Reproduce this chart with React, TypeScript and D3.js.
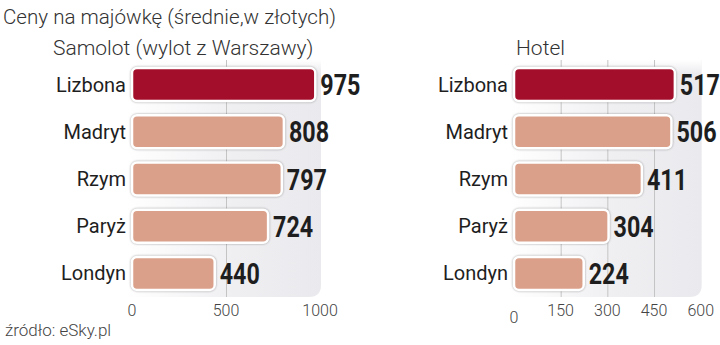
import React from "react";
import * as d3 from "d3";

const title = "Ceny na majówkę (średnie,w złotych)";
const source = "źródło: eSky.pl";
const cities = ["Lizbona", "Madryt", "Rzym", "Paryż", "Londyn"];
const flightTitle = "Samolot (wylot z Warszawy)";
const flightValues = [975, 808, 797, 724, 440];
const flightTicks = [0, 500, 1000];
const hotelTitle = "Hotel";
const hotelValues = [517, 506, 411, 304, 224];
const hotelTicks = [0, 150, 300, 450, 600];

const W = 720;
const H = 345;
const HIGHLIGHT = "#a30f2b";
const BASE = "#daa08a";
const LABEL_FONT = "Roboto, 'Noto Sans', sans-serif";
const VALUE_FONT = "Roboto, 'Noto Sans', sans-serif";

type PanelProps = {
  id: string;
  x0: number;
  x1: number;
  max: number;
  ticks: number[];
  values: number[];
  heading: string;
  headingX: number;
  zeroDrop: number;
};

function Panel({ id, x0, x1, max, ticks, values, heading, headingX, zeroDrop }: PanelProps) {
  const x = d3.scaleLinear().domain([0, max]).range([x0, x1]);
  const y = d3.scaleBand().domain(cities).range([61, 297]).paddingInner(0.3).paddingOuter(0.15);
  const top = 60;
  const bottom = 297;
  const right = x1 + 1;
  const r = 12;
  const left = x0 - 4;
  const bgPath = `M${left},${top} H${right} V${bottom - r} Q${right},${bottom} ${right - r},${bottom} H${left} Z`;
  return (
    <g>
      <defs>
        <linearGradient id={`bg-${id}`} x1="0" x2="1" y1="0" y2="0">
          <stop offset="0%" stopColor="#ffffff" />
          <stop offset="55%" stopColor="#efeff2" />
          <stop offset="100%" stopColor="#eaeaee" />
        </linearGradient>
        <linearGradient id={`fade-${id}`} x1="0" x2="0" y1="0" y2="1">
          <stop offset="0%" stopColor="#ffffff" stopOpacity="1" />
          <stop offset="100%" stopColor="#ffffff" stopOpacity="0" />
        </linearGradient>
      </defs>
      <path d={bgPath} fill={`url(#bg-${id})`} />
      <rect x={left} y={top} width={right - left} height={14} fill={`url(#fade-${id})`} />
      {ticks
        .filter((t) => t !== 0 && t !== max)
        .map((t) => (
          <line key={t} x1={x(t) + 0.5} x2={x(t) + 0.5} y1={top} y2={bottom} stroke="#c4c4c4" strokeWidth={1} />
        ))}
      <text x={headingX} y={55} fontFamily={LABEL_FONT} fontWeight={300} fontSize={21} fill="#333">
        {heading}
      </text>
      {cities.map((c, i) => {
        const by = y(c)!;
        const bh = y.bandwidth();
        const w = x(values[i]) - x(0);
        const vx = x(values[i]) + 5;
        const vy = by + bh / 2;
        return (
          <g key={c}>
            <rect
              x={x(0)}
              y={by}
              width={w}
              height={bh}
              rx={5}
              fill={i === 0 ? HIGHLIGHT : BASE}
              stroke="#ffffff"
              strokeWidth={2.5}
              style={{ filter: "drop-shadow(0px 0px 1px rgba(0,0,0,0.35))" }}
            />
            <text
              x={x(0) - 6}
              y={vy}
              dy="0.35em"
              textAnchor="end"
              fontFamily={LABEL_FONT}
              fontSize={20}
              fill="#1e1e1e"
            >
              {c}
            </text>
            <text
              transform={`translate(${vx},${vy}) scale(0.79,1)`}
              dy="0.36em"
              fontFamily={VALUE_FONT}
              fontWeight={700}
              fontSize={29.5}
              fill="#1e1e1e"
            >
              {values[i]}
            </text>
          </g>
        );
      })}
      {ticks.map((t) => (
        <text
          key={t}
          x={x(t)}
          y={t === 0 ? 316 + zeroDrop : 316}
          textAnchor="middle"
          fontFamily={LABEL_FONT}
          fontWeight={300}
          fontSize={16}
          fill="#444"
        >
          {t}
        </text>
      ))}
    </g>
  );
}

export default function App() {
  return (
    <svg width={W} height={H} style={{ display: "block", position: "absolute", left: 0, top: 0, background: "#fff" }}>
      <text x={3} y={24} fontFamily={LABEL_FONT} fontWeight={300} fontSize={20.6} fill="#333">
        {title}
      </text>
      <Panel
        id="a"
        x0={132}
        x1={320}
        max={1000}
        ticks={flightTicks}
        values={flightValues}
        heading={flightTitle}
        headingX={53}
        zeroDrop={0}
      />
      <Panel
        id="b"
        x0={514}
        x1={700.7}
        max={600}
        ticks={hotelTicks}
        values={hotelValues}
        heading={hotelTitle}
        headingX={516}
        zeroDrop={7}
      />
      <text x={5} y={336} fontFamily={LABEL_FONT} fontWeight={300} fontSize={17} fill="#444">
        {source}
      </text>
    </svg>
  );
}
